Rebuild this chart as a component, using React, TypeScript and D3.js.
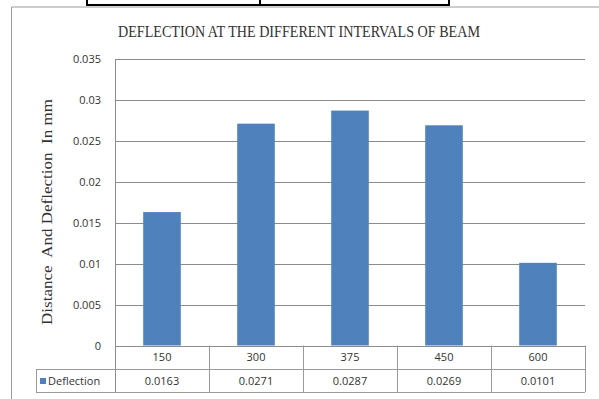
import React from "react";
import * as d3 from "d3";

const categories = ["150", "300", "375", "450", "600"];
const deflection = [0.0163, 0.0271, 0.0287, 0.0269, 0.0101];
const valueLabels = ["0.0163", "0.0271", "0.0287", "0.0269", "0.0101"];
const yTicks = [0, 0.005, 0.01, 0.015, 0.02, 0.025, 0.03, 0.035];
const seriesName = "Deflection";
const title = "DEFLECTION AT THE DIFFERENT INTERVALS OF BEAM";
const yTitle = "Distance  And Deflection  In mm";

export default function App() {
  const W = 599, H = 399;
  const left = 115, right = 585, top = 59, bottom = 345.5;
  const row1 = 369, row2 = 392;
  const x = d3.scaleBand<string>().domain(categories).range([left, right]).paddingInner(0).paddingOuter(0);
  const y = d3.scaleLinear().domain([0, 0.035]).range([bottom, top]);
  const bw = x.bandwidth() * 0.4;
  const grid = "#8c8c8c";
  const border = "#9a9a9a";
  const sans = "Open Sans, Noto Sans, Arial, sans-serif";
  const serif = "Liberation Serif, Times New Roman, serif";
  const fmt = (v: number) => (v === 0 ? "0" : String(+v.toFixed(3)));
  return (
    <svg width={W} height={H} style={{ position: "absolute", left: 0, top: 0, background: "#fff" }}>
      {/* top table remnant */}
      <g stroke="#000" strokeWidth={2} fill="none">
        <line x1={87} y1={0} x2={87} y2={5} />
        <line x1={260} y1={0} x2={260} y2={5} />
        <line x1={449} y1={0} x2={449} y2={5} />
        <line x1={86} y1={5} x2={450} y2={5} />
      </g>
      {/* chart border */}
      <line x1={11.5} y1={7} x2={599} y2={7} stroke={border} />
      <line x1={11.5} y1={7} x2={11.5} y2={399} stroke={border} />
      {/* title */}
      <text x={299} y={37} textAnchor="middle" fontFamily={serif} fontSize={17.5} fill="#333" textLength={362} lengthAdjust="spacingAndGlyphs" style={{ whiteSpace: "pre" }}>{title}</text>
      {/* y title */}
      <text transform={`translate(52,212) rotate(-90)`} textAnchor="middle" fontFamily={serif} fontSize={15.5} fill="#333" textLength={226} lengthAdjust="spacingAndGlyphs" style={{ whiteSpace: "pre" }}>{yTitle}</text>
      {/* gridlines */}
      {yTicks.map((t) => (
        <g key={t}>
          <line x1={left} x2={right} y1={Math.round(y(t)) + 0.5} y2={Math.round(y(t)) + 0.5} stroke={grid} />
          <text x={101} y={y(t) + 4} textAnchor="end" fontFamily={sans} fontSize={11} fill="#333">{fmt(t)}</text>
        </g>
      ))}
      {/* bars */}
      {deflection.map((v, i) => (
        <rect key={i} x={(x(categories[i]) as number) + (x.bandwidth() - bw) / 2} y={y(v)} width={bw} height={bottom - y(v)} fill="#4F81BD" />
      ))}
      {/* axis line */}
      <line x1={left + 0.5} x2={left + 0.5} y1={top} y2={row2} stroke={grid} />
      {/* data table */}
      <g stroke={border} fill="none">
        <line x1={left} x2={right} y1={row1 + 0.5} y2={row1 + 0.5} />
        <line x1={36} x2={left} y1={row1 + 0.5} y2={row1 + 0.5} />
        <line x1={36} x2={right} y1={row2 + 0.5} y2={row2 + 0.5} />
        <line x1={36.5} x2={36.5} y1={row1} y2={row2} />
        {categories.map((c) => (
          <line key={c} x1={(x(c) as number) + x.bandwidth() + 0.5} x2={(x(c) as number) + x.bandwidth() + 0.5} y1={bottom} y2={row2} />
        ))}
      </g>
      {categories.map((c, i) => (
        <g key={c}>
          <text x={(x(c) as number) + x.bandwidth() / 2} y={361} textAnchor="middle" fontFamily={sans} fontSize={11} fill="#333">{c}</text>
          <text x={(x(c) as number) + x.bandwidth() / 2} y={385} textAnchor="middle" fontFamily={sans} fontSize={11} fill="#333">{valueLabels[i]}</text>
        </g>
      ))}
      <rect x={40} y={378} width={6} height={6} fill="#4F81BD" />
      <text x={48} y={385} fontFamily={sans} fontSize={11} fill="#333">{seriesName}</text>
    </svg>
  );
}
